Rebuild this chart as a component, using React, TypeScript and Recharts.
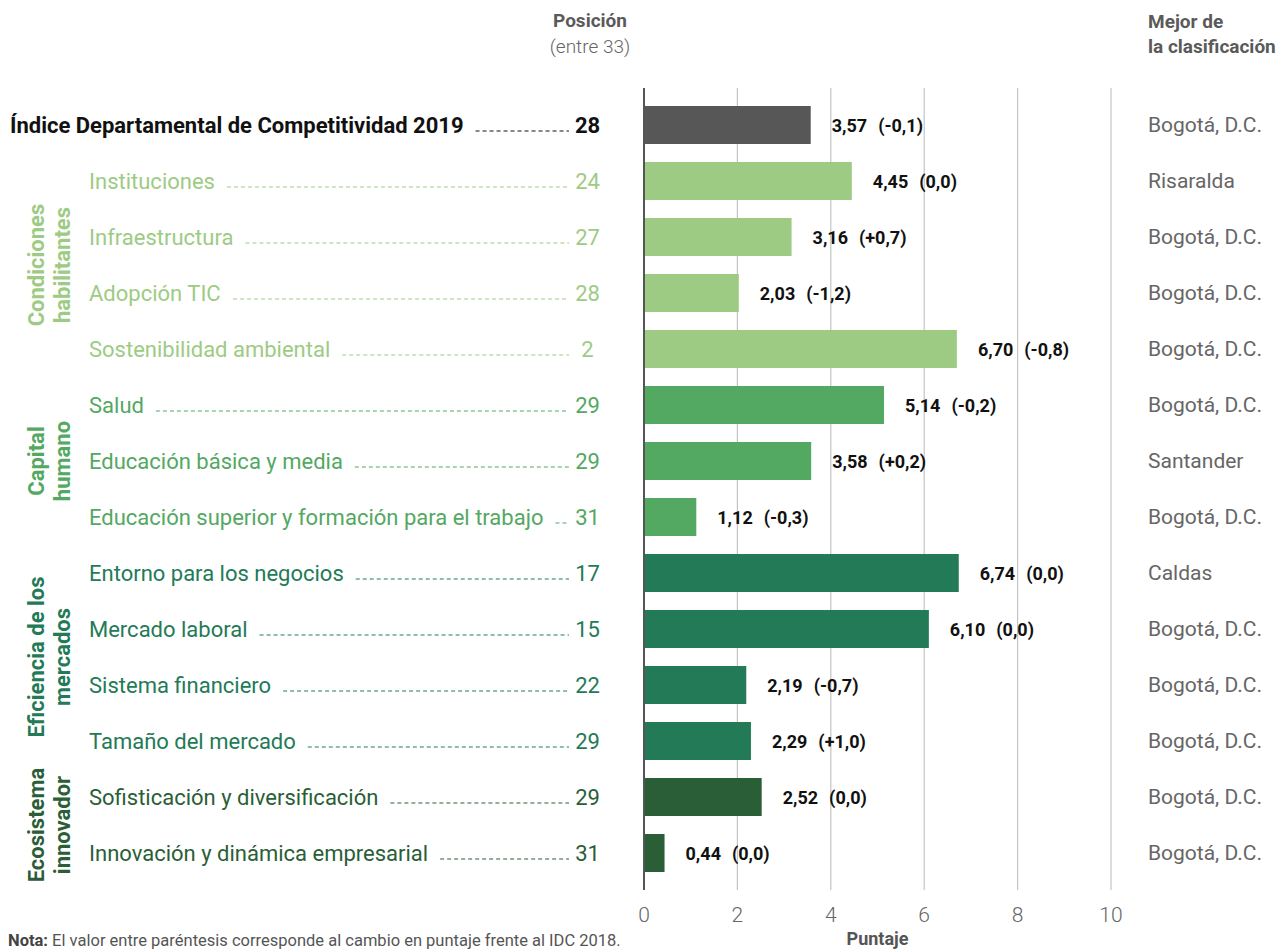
import React from 'react';
import {
  ComposedChart,
  Bar,
  XAxis,
  YAxis,
  CartesianGrid,
  ReferenceLine,
  LabelList,
  Cell,
} from 'recharts';

const categories = [
  'Índice Departamental de Competitividad 2019',
  'Instituciones',
  'Infraestructura',
  'Adopción TIC',
  'Sostenibilidad ambiental',
  'Salud',
  'Educación básica y media',
  'Educación superior y formación para el trabajo',
  'Entorno para los negocios',
  'Mercado laboral',
  'Sistema financiero',
  'Tamaño del mercado',
  'Sofisticación y diversificación',
  'Innovación y dinámica empresarial',
];
const scores = [3.57, 4.45, 3.16, 2.03, 6.7, 5.14, 3.58, 1.12, 6.74, 6.1, 2.19, 2.29, 2.52, 0.44];
const changes = ['-0,1', '0,0', '+0,7', '-1,2', '-0,8', '-0,2', '+0,2', '-0,3', '0,0', '0,0', '-0,7', '+1,0', '0,0', '0,0'];
const positions = [28, 24, 27, 28, 2, 29, 29, 31, 17, 15, 22, 29, 29, 31];
const best = [
  'Bogotá, D.C.',
  'Risaralda',
  'Bogotá, D.C.',
  'Bogotá, D.C.',
  'Bogotá, D.C.',
  'Bogotá, D.C.',
  'Santander',
  'Bogotá, D.C.',
  'Caldas',
  'Bogotá, D.C.',
  'Bogotá, D.C.',
  'Bogotá, D.C.',
  'Bogotá, D.C.',
  'Bogotá, D.C.',
];
const groupOf = ['idc', 'cond', 'cond', 'cond', 'cond', 'cap', 'cap', 'cap', 'efi', 'efi', 'efi', 'efi', 'eco', 'eco'];
const groupKeys = ['cond', 'cap', 'efi', 'eco'];
const groupLines: Record<string, string[]> = {
  cond: ['Condiciones', 'habilitantes'],
  cap: ['Capital', 'humano'],
  efi: ['Eficiencia de los', 'mercados'],
  eco: ['Ecosistema', 'innovador'],
};
const xTicks = [0, 2, 4, 6, 8, 10];

const barColors: Record<string, string> = {
  idc: '#575757',
  cond: '#9DCB84',
  cap: '#53A862',
  efi: '#237A57',
  eco: '#2A5E37',
};
const textColors: Record<string, string> = {
  idc: '#111111',
  cond: '#9DCB84',
  cap: '#53A862',
  efi: '#237A57',
  eco: '#2A5E37',
};

const FONT = 'Roboto, "Noto Sans", sans-serif';
const BAND_HALF = 28;
const LABEL_SIZE = 22;

const data = categories.map((name, i) => ({
  name,
  score: scores[i],
  change: changes[i],
  position: positions[i],
  best: best[i],
  group: groupOf[i],
}));

let ctx: CanvasRenderingContext2D | null = null;
function measure(text: string, font: string): number {
  if (!ctx) {
    const c = document.createElement('canvas');
    ctx = c.getContext('2d');
  }
  if (!ctx) return text.length * 10;
  ctx.font = font;
  return ctx.measureText(text).width;
}

const fmt = (v: number) => v.toFixed(2).replace('.', ',');

function LeftTick(props: any) {
  const { y, payload } = props;
  const i = payload.index as number;
  const g = groupOf[i];
  const isMain = i === 0;
  const color = textColors[g];
  const labelX = isMain ? 10 : 89;
  const weight = isMain ? 700 : 400;
  const w = measure(categories[i], `${weight} ${LABEL_SIZE}px Roboto`);
  const leaderStart = labelX + w + 12;
  const leaderEnd = 569;
  const els: React.ReactNode[] = [];
  els.push(
    <text key="l" x={labelX} y={y} dominantBaseline="central" fontFamily={FONT} fontSize={LABEL_SIZE} fontWeight={weight} fill={color}>
      {categories[i]}
    </text>
  );
  if (leaderEnd > leaderStart) {
    els.push(
      <line key="d" x1={leaderStart} x2={leaderEnd} y1={y + 6} y2={y + 6} stroke={color} strokeWidth={1} strokeDasharray="4 3" />
    );
  }
  els.push(
    <text key="n" x={587.5} y={y} textAnchor="middle" dominantBaseline="central" fontFamily={FONT} fontSize={LABEL_SIZE} fontWeight={weight} fill={color}>
      {positions[i]}
    </text>
  );
  if (groupKeys.includes(g) && (i === 0 || groupOf[i - 1] !== g)) {
    const n = groupOf.filter((k) => k === g).length;
    const cy = y + (n - 1) * BAND_HALF;
    const lines = groupLines[g];
    lines.forEach((ln, k) => {
      const cx = 36 + k * 26;
      els.push(
        <text
          key={'g' + k}
          x={cx}
          y={cy}
          transform={`rotate(-90, ${cx}, ${cy})`}
          textAnchor="middle"
          dominantBaseline="central"
          fontFamily={FONT}
          fontSize={22}
          fontWeight={700}
          fill={textColors[g]}
        >
          {ln}
        </text>
      );
    });
  }
  return <g>{els}</g>;
}

function ValueLabel(props: any) {
  const { x, y, width, height, index } = props;
  return (
    <text x={x + width + 21} y={y + height / 2} dominantBaseline="central" fontFamily={FONT} fontSize={18} fontWeight={700} fill="#111">
      <tspan>{fmt(scores[index])}</tspan>
      <tspan dx={11}>({changes[index]})</tspan>
    </text>
  );
}

function BestLabel(props: any) {
  const { y, height, index } = props;
  return (
    <text x={1148} y={y + height / 2} dominantBaseline="central" fontFamily={FONT} fontSize={21} fill="#666">
      {best[index]}
    </text>
  );
}

export default function App() {
  return (
    <div style={{ position: 'absolute', left: 0, top: 0, width: 1285, height: 951, background: '#fff', fontFamily: FONT }}>
      <div style={{ position: 'absolute', left: 490, width: 200, top: 8, textAlign: 'center', color: '#5a5a5a', fontSize: 19, lineHeight: '26px' }}>
        <div style={{ fontWeight: 700 }}>Posición</div>
        <div style={{ fontWeight: 300, color: '#666' }}>(entre 33)</div>
      </div>
      <div style={{ position: 'absolute', left: 1148, top: 9, color: '#5a5a5a', fontSize: 19, lineHeight: '25px', fontWeight: 700, whiteSpace: 'nowrap' }}>
        <div>Mejor de</div>
        <div>la clasificación</div>
      </div>
      <div style={{ position: 'absolute', left: 8, top: 931, fontSize: 16.5, color: '#555', whiteSpace: 'nowrap' }}>
        <span style={{ fontWeight: 700, color: '#444' }}>Nota:</span> El valor entre paréntesis corresponde al cambio en puntaje frente al IDC 2018.
      </div>
      <ComposedChart
        width={1285}
        height={951}
        data={data}
        layout="vertical"
        margin={{ top: 88, right: 174, bottom: 31, left: 44 }}
        style={{ position: 'absolute', left: 0, top: 0 }}
      >
        <CartesianGrid horizontal={false} vertical={true} stroke="#c4c4c4" strokeWidth={1.2} />
        <XAxis
          type="number"
          domain={[0, 10]}
          ticks={xTicks}
          axisLine={false}
          tickLine={false}
          tickSize={6}
          tickMargin={11}
          height={30}
          tick={{ fontFamily: FONT, fontSize: 21, fill: '#666', fontWeight: 300 }}
          label={{ value: 'Puntaje', position: 'bottom', offset: 12, style: { fontFamily: FONT, fontSize: 18, fontWeight: 700, fill: '#555' } }}
        />
        <YAxis
          type="category"
          dataKey="name"
          width={600}
          axisLine={false}
          tickLine={false}
          padding={{ top: 9, bottom: 9 }}
          interval={0}
          tick={<LeftTick />}
        />
        <ReferenceLine x={0} stroke="#555" strokeWidth={2} />
        <Bar dataKey="score" barSize={38} isAnimationActive={false}>
          {data.map((d, i) => (
            <Cell key={i} fill={barColors[d.group]} />
          ))}
          <LabelList dataKey="score" content={<ValueLabel />} />
          <LabelList dataKey="best" content={<BestLabel />} />
        </Bar>
      </ComposedChart>
    </div>
  );
}
